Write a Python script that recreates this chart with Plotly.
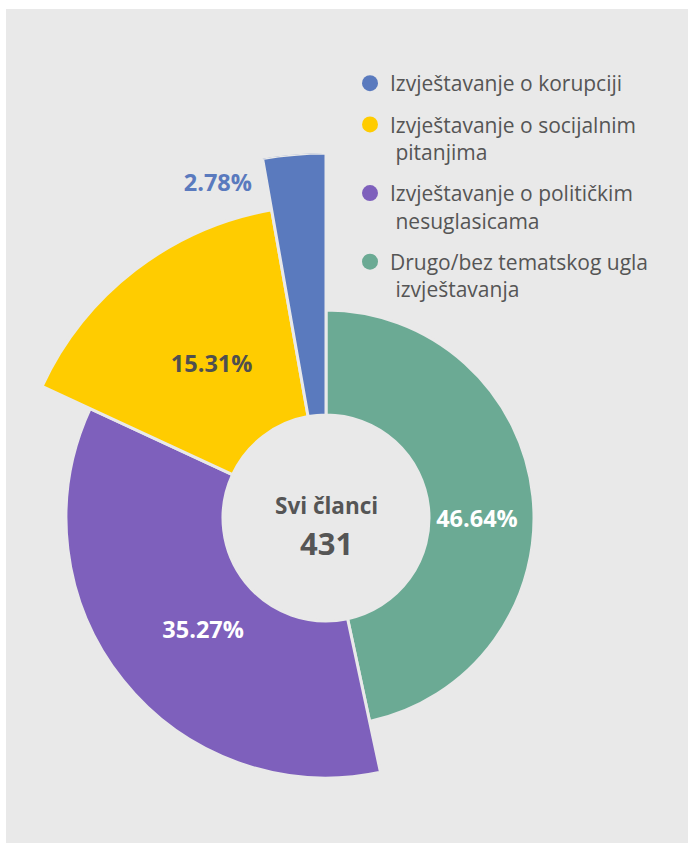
import math
import plotly.graph_objects as go

# ---------------- data ----------------
categories = [
    "Izvještavanje o korupciji",
    "Izvještavanje o socijalnim pitanjima",
    "Izvještavanje o političkim nesuglasicama",
    "Drugo/bez tematskog ugla izvještavanja",
]
legend_labels = [
    "Izvještavanje o korupciji",
    "Izvještavanje o socijalnim<br>\u00a0pitanjima",
    "Izvještavanje o političkim<br>\u00a0nesuglasicama",
    "Drugo/bez tematskog ugla<br>\u00a0izvještavanja",
]
shares = [2.78, 15.31, 35.27, 46.64]
center_title = "Svi članci"
total_articles = 431

# ---------------- style ----------------
colors = ["#5a7abe", "#ffcc00", "#7e60bc", "#6baa94"]
label_colors = ["#5a7abe", "#4f4f4f", "#ffffff", "#ffffff"]
bg = "#e9e9e9"
text_grey = "#555555"

W, H = 688, 843
cx, cy = 326, 518          # pie centre in px (from top-left)
hole = 103                 # inner radius (px units)
outer = [365, 313, 260, 208]            # outer radius per category
label_r = [350, 190, 168, 151]
label_theta = [342, 323, 227, 91]
# the tallest (blue) wedge is drawn in a second, sector-shaped polar subplot
# sharing the same centre and scale, so it can reach above the main circle
subplot_of = ["polar2", "polar", "polar", "polar"]

R1 = 324                   # main polar radius in px (== radial range)
R2 = 365                   # sector polar radius in px (== radial range)
sector2 = [88, 130]        # math degrees, counter-clockwise from 3 o'clock

# clockwise from 12 o'clock: largest share first
order = [3, 2, 1, 0]
start = {}
acc = 0.0
for i in order:
    start[i] = acc
    acc += shares[i] * 3.6

fig = go.Figure()
for i in order:
    w = shares[i] * 3.6
    fig.add_trace(go.Barpolar(
        r=[outer[i] - hole], base=[hole], theta=[start[i] + w / 2], width=[w],
        marker=dict(color=colors[i], line=dict(color=bg, width=3)),
        showlegend=False, hoverinfo="skip", name=categories[i],
        subplot=subplot_of[i],
    ))

# legend proxies (circle markers)
for i, lab in enumerate(legend_labels):
    fig.add_trace(go.Scatterpolar(
        r=[None], theta=[None], mode="markers", name=lab,
        marker=dict(size=16, color=colors[i]),
        legendgroup=f"g{i}", hoverinfo="skip", subplot="polar",
    ))

# percentage labels
for sp in ["polar", "polar2"]:
    idx = [i for i in range(len(shares)) if subplot_of[i] == sp]
    fig.add_trace(go.Scatterpolar(
        r=[label_r[i] for i in idx], theta=[label_theta[i] for i in idx],
        mode="text", text=[f"{shares[i]:.2f}%" for i in idx],
        textfont=dict(family="Open Sans", size=23.5,
                      color=[label_colors[i] for i in idx], weight="bold"),
        cliponaxis=False, showlegend=False, hoverinfo="skip", subplot=sp,
    ))

# sector bounding box (unit circle, origin included) for polar2
angs = [math.radians(a) for a in sector2]
bx0 = min(0, *[math.cos(a) for a in angs])
bx1 = max(0, *[math.cos(a) for a in angs])
by0 = 0.0
by1 = 1.0 if sector2[0] <= 90 <= sector2[1] else max(math.sin(a) for a in angs)

angular_off = dict(direction="clockwise", rotation=90, visible=False, showgrid=False)

fig.update_layout(
    width=W, height=H,
    margin=dict(l=0, r=0, t=0, b=0),
    paper_bgcolor="white",
    plot_bgcolor="rgba(0,0,0,0)",
    font=dict(family="Open Sans", color=text_grey),
    polar=dict(
        domain=dict(x=[(cx - R1) / W, (cx + R1) / W],
                    y=[(H - cy - R1) / H, (H - cy + R1) / H]),
        bgcolor="rgba(0,0,0,0)",
        radialaxis=dict(range=[0, R1], visible=False, showgrid=False),
        angularaxis=angular_off,
    ),
    polar2=dict(
        sector=sector2,
        domain=dict(x=[(cx + bx0 * R2) / W, (cx + bx1 * R2) / W],
                    y=[(H - cy + by0 * R2) / H, (H - cy + by1 * R2) / H]),
        bgcolor="rgba(0,0,0,0)",
        radialaxis=dict(range=[0, R2], visible=False, showgrid=False),
        angularaxis=angular_off,
    ),
    showlegend=True,
    legend=dict(
        x=350 / W, y=1 - 63 / H, xanchor="left", yanchor="top",
        bgcolor="rgba(0,0,0,0)", valign="top",
        font=dict(family="Open Sans", size=21, color=text_grey),
        tracegroupgap=11, itemclick=False, itemdoubleclick=False,
    ),
    shapes=[dict(type="rect", xref="paper", yref="paper",
                 x0=6 / W, x1=1, y0=0, y1=1 - 9 / H,
                 fillcolor=bg, line=dict(width=0), layer="below")],
    annotations=[
        dict(text=center_title, x=cx / W, y=1 - 506 / H, xref="paper", yref="paper",
             showarrow=False, xanchor="center", yanchor="middle",
             font=dict(family="Open Sans", size=22.5, color=text_grey, weight="bold")),
        dict(text=str(total_articles), x=cx / W, y=1 - 543 / H, xref="paper", yref="paper",
             showarrow=False, xanchor="center", yanchor="middle",
             font=dict(family="Open Sans", size=31, color=text_grey, weight="bold")),
    ],
)

fig.write_html("out.html")
